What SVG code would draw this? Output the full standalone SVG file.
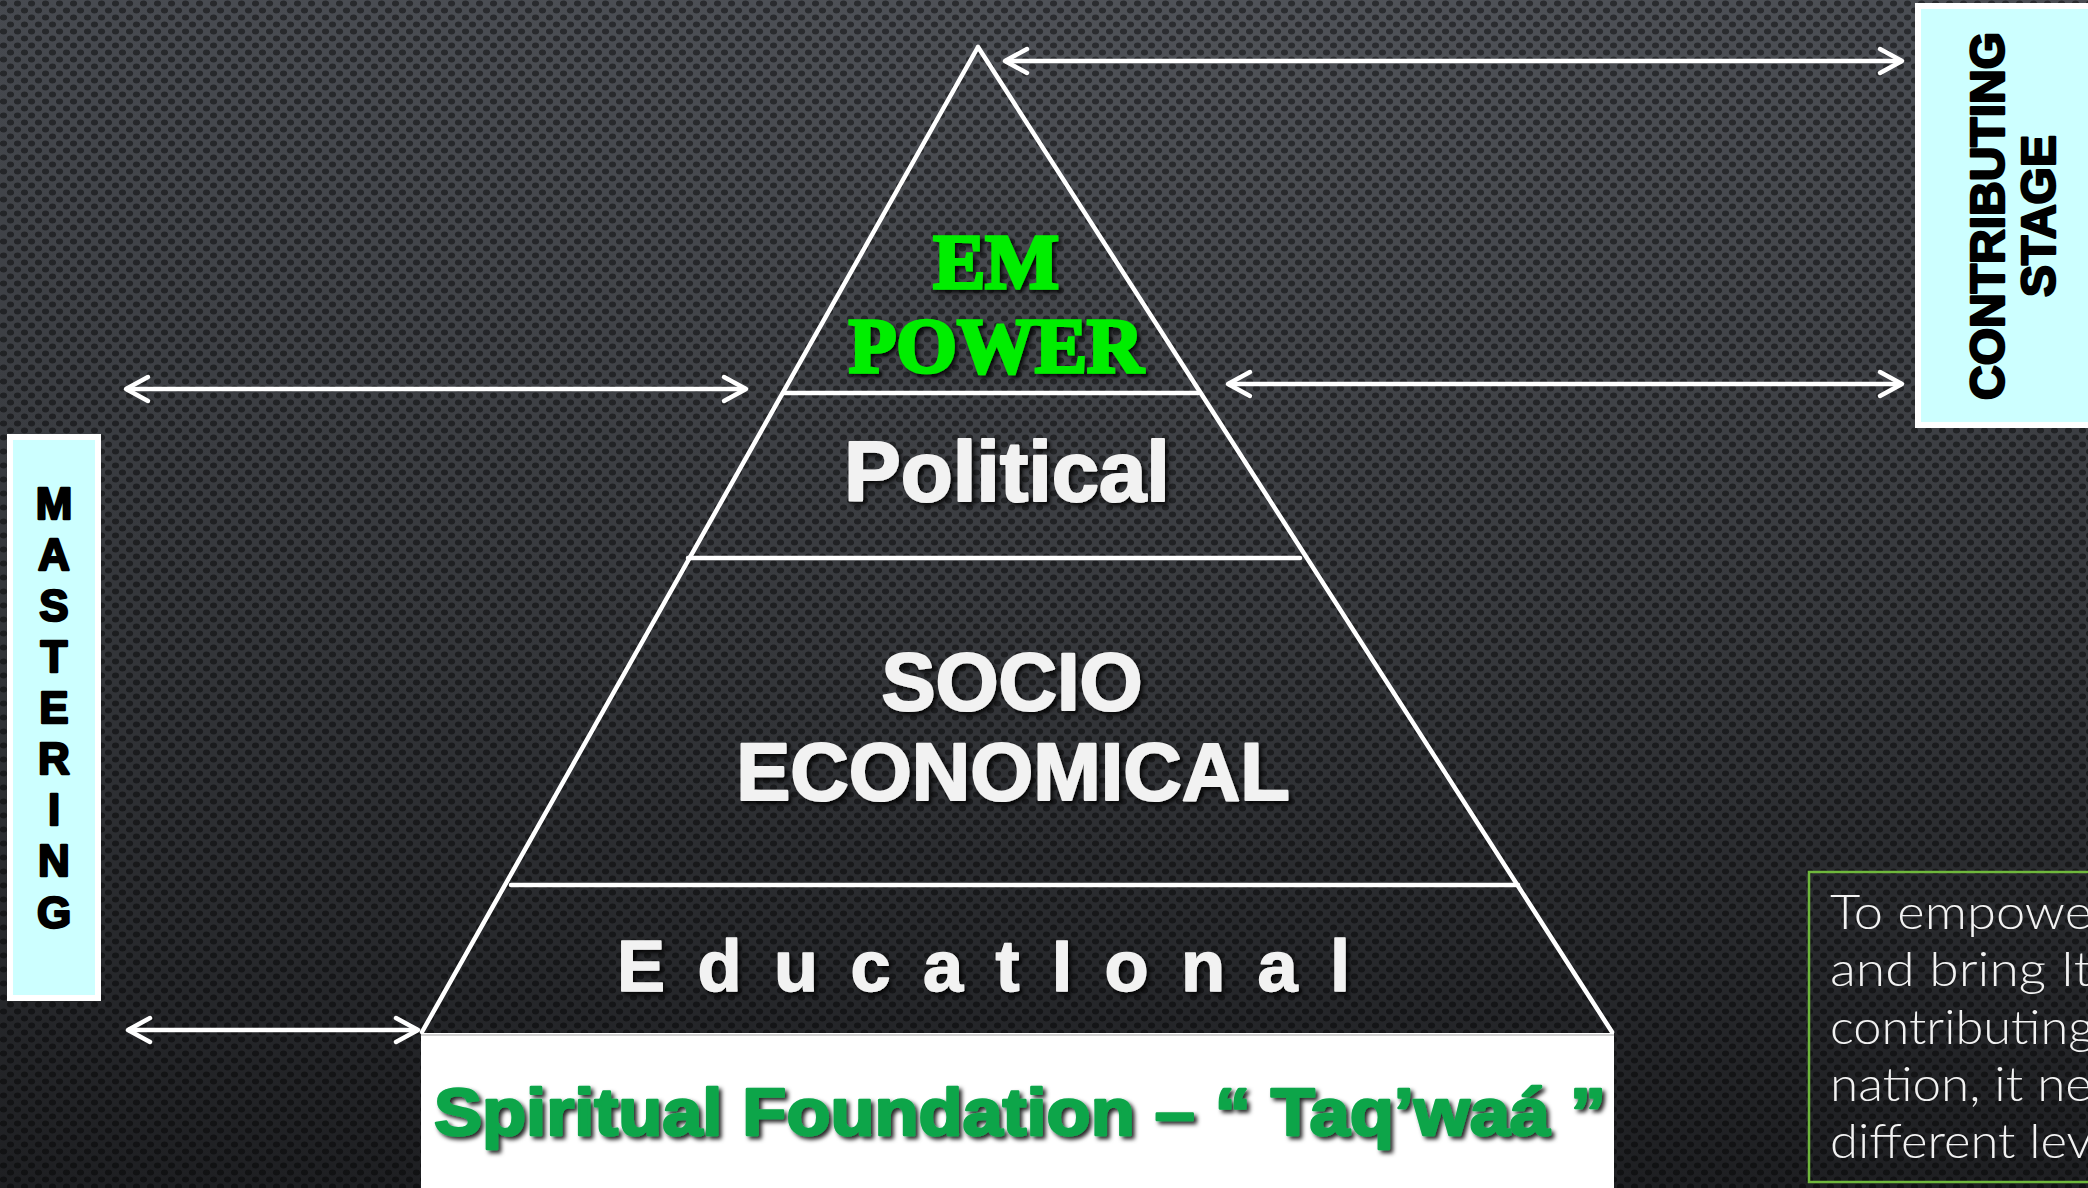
<svg xmlns="http://www.w3.org/2000/svg" width="2088" height="1188" viewBox="0 0 2088 1188">
<defs>
<style>
.ln{stroke:#ffffff;stroke-width:4.5;fill:none;stroke-linecap:round}
.arr{stroke:#ffffff;stroke-width:4.5;fill:none;marker-start:url(#ah);marker-end:url(#ah)}
.wt{font-family:"Liberation Sans",Arial,sans-serif;font-weight:bold;fill:#f2f2f2;stroke:#f2f2f2;stroke-width:2.2;stroke-linejoin:round;text-anchor:middle;filter:url(#sh)}
.vt{font-family:"Liberation Sans",Arial,sans-serif;font-weight:bold;fill:#000000;stroke:#000000;stroke-width:2.4;stroke-linejoin:round;text-anchor:middle}
.em{font-family:"Liberation Serif","Times New Roman",serif;font-weight:bold;fill:#00ee00;stroke:#00ee00;stroke-width:3.5;stroke-linejoin:miter;text-anchor:middle;font-size:78px;filter:url(#sh)}
.note{font-family:Lato,"DejaVu Sans",sans-serif;font-weight:300;fill:#f2f2f2;font-size:47px}
.box{fill:#ccffff;stroke:#ffffff;stroke-width:6}
</style>
<linearGradient id="bg" x1="0" y1="0" x2="0" y2="1">
<stop offset="0" stop-color="#45484e"/>
<stop offset="0.55" stop-color="#333539"/>
<stop offset="1" stop-color="#1e1f22"/>
</linearGradient>
<radialGradient id="glow" cx="0.6" cy="0.05" r="0.7">
<stop offset="0" stop-color="#ffffff" stop-opacity="0.06"/>
<stop offset="1" stop-color="#ffffff" stop-opacity="0"/>
</radialGradient>
<pattern id="dots" width="14" height="14" patternUnits="userSpaceOnUse">
<ellipse cx="3.5" cy="3.5" rx="3.6" ry="3" fill="#000000" fill-opacity="0.45"/>
<ellipse cx="10.5" cy="10.5" rx="3.6" ry="3" fill="#000000" fill-opacity="0.45"/>
</pattern>
<filter id="sh" x="-10%" y="-20%" width="120%" height="150%">
<feDropShadow dx="3" dy="3" stdDeviation="2" flood-color="#000000" flood-opacity="0.85"/>
</filter>
<marker id="ah" markerUnits="userSpaceOnUse" markerWidth="40" markerHeight="40" refX="0" refY="0" viewBox="-30 -20 40 40" orient="auto-start-reverse">
<path d="M-22,-12 L0,0 L-22,12" fill="none" stroke="#ffffff" stroke-width="4.5" stroke-linecap="round" stroke-linejoin="round"/>
</marker>
</defs>

<g id="background">
<rect x="0" y="0" width="2088" height="1188" fill="url(#bg)"/>
<rect x="0" y="0" width="2088" height="1188" fill="url(#glow)"/>
<rect x="0" y="0" width="2088" height="1188" fill="url(#dots)"/>
</g>

<g id="pyramid">
<path class="ln" d="M978,47 L422,1032 M978,47 L1612,1032"/>
</g>

<g id="node-empower">
<text class="em" x="996" y="288">EM</text>
<text class="em" x="996" y="372">POWER</text>
<line class="ln" x1="783" y1="393" x2="1198" y2="393" stroke-linecap="butt"/>
</g>

<g id="node-political">
<text class="wt" x="1007" y="501" font-size="85">Political</text>
<line class="ln" x1="688" y1="558" x2="1300" y2="558" stroke-linecap="butt"/>
</g>

<g id="node-socio">
<text class="wt" x="1012" y="710" font-size="81">SOCIO</text>
<text class="wt" x="1013" y="800" font-size="81">ECONOMICAL</text>
<line class="ln" x1="511" y1="885" x2="1518" y2="885" stroke-linecap="butt"/>
</g>

<g id="node-educational">
<text class="wt" x="617" y="991" font-size="72" style="text-anchor:start;stroke-width:1.5" letter-spacing="32.5">EducatIonal</text>
</g>

<g id="node-spiritual">
<rect x="421" y="1033" width="1193" height="160" fill="#ffffff"/>
<line x1="421" y1="1035" x2="1614" y2="1035" stroke="#d0d0d0" stroke-width="2"/>
<text x="1020" y="1135" font-family="'Liberation Sans',Arial,sans-serif" font-weight="bold" font-size="66" fill="#0aa54a" stroke="#0aa54a" stroke-width="2.5" stroke-linejoin="round" text-anchor="middle" textLength="1172" lengthAdjust="spacingAndGlyphs" filter="url(#sh)">Spiritual Foundation – “ Taq’waá ”</text>
</g>

<g id="node-mastering">
<rect class="box" x="10" y="437" width="88" height="561"/>
<text class="vt" x="54" font-size="44"><tspan x="54" y="519">M</tspan><tspan x="54" y="570">A</tspan><tspan x="54" y="621">S</tspan><tspan x="54" y="672">T</tspan><tspan x="54" y="723">E</tspan><tspan x="54" y="774">R</tspan><tspan x="54" y="825">I</tspan><tspan x="54" y="876">N</tspan><tspan x="54" y="928">G</tspan></text>
</g>

<g id="node-contributing">
<rect class="box" x="1918" y="6" width="180" height="419"/>
<text class="vt" font-size="48" transform="translate(2004,216) rotate(-90)" x="0" y="0">CONTRIBUTING</text>
<text class="vt" font-size="48" transform="translate(2055,216) rotate(-90)" x="0" y="0">STAGE</text>
</g>

<g id="node-note">
<rect x="1809" y="872" width="290" height="310" fill="none" stroke="#6fb83c" stroke-width="2.5"/>
<text class="note" x="1830" y="929" textLength="262" lengthAdjust="spacingAndGlyphs">To empowe</text>
<text class="note" x="1830" y="986" textLength="262" lengthAdjust="spacingAndGlyphs">and bring It</text>
<text class="note" x="1830" y="1044" textLength="264" lengthAdjust="spacingAndGlyphs">contributing</text>
<text class="note" x="1830" y="1101" textLength="262" lengthAdjust="spacingAndGlyphs">nation, it ne</text>
<text class="note" x="1830" y="1158" textLength="262" lengthAdjust="spacingAndGlyphs">different lev</text>
</g>

<g id="connectors">
<line class="arr" x1="1005" y1="61" x2="1902" y2="61"/>
<line class="arr" x1="1228" y1="384" x2="1902" y2="384"/>
<line class="arr" x1="126" y1="389" x2="746" y2="389"/>
<line class="arr" x1="128" y1="1030" x2="418" y2="1030"/>
</g>
</svg>
